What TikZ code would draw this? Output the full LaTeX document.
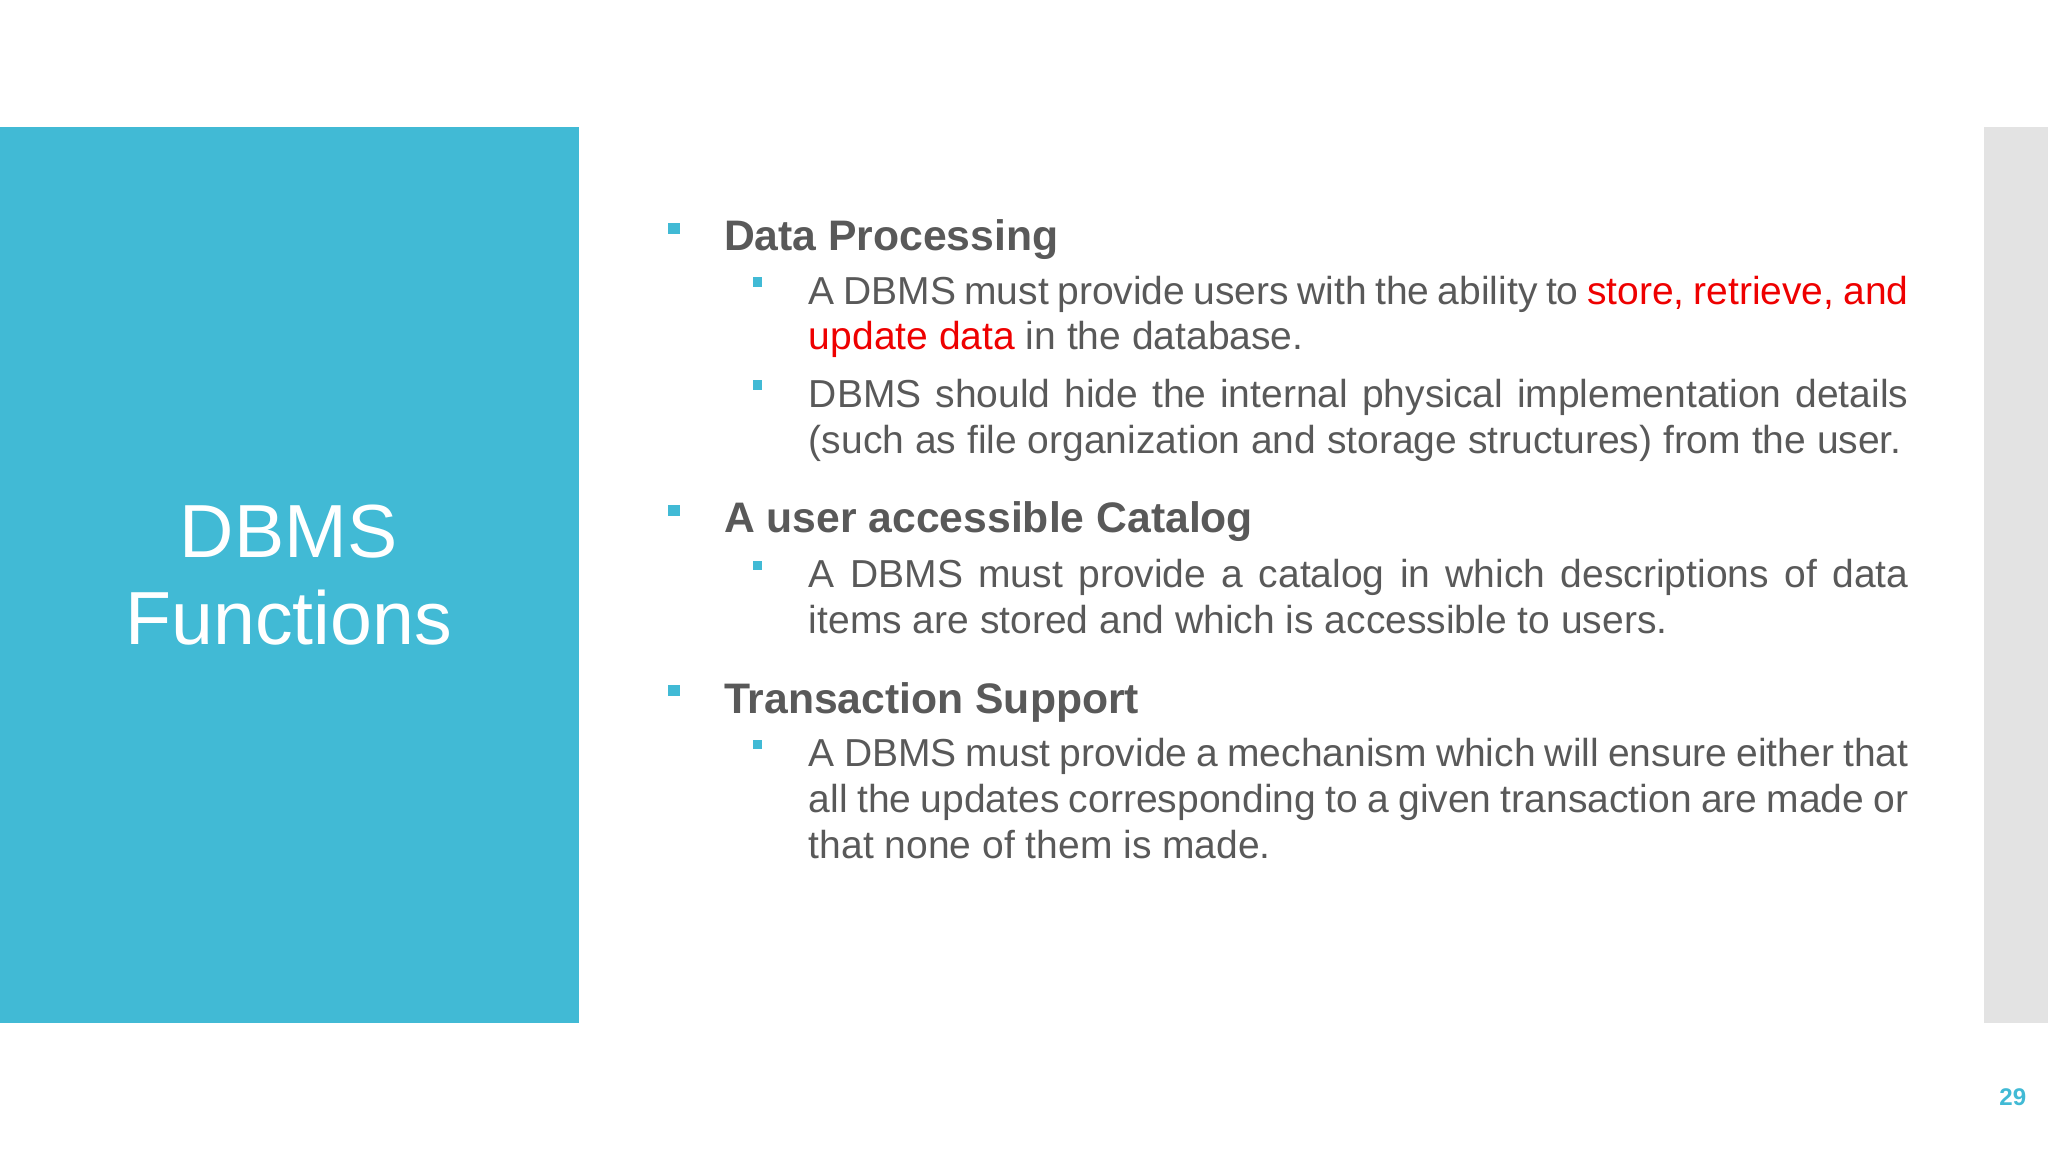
\documentclass[tikz,border=0pt]{standalone}
\usepackage{fontspec}
\setmainfont{Liberation Sans}
\definecolor{teal}{HTML}{41BAD5}
\definecolor{txt}{HTML}{595959}
\definecolor{gbar}{HTML}{E3E3E3}
\definecolor{red1}{HTML}{EE0000}
\newcommand{\nohyph}{\hyphenpenalty10000 \exhyphenpenalty10000 }
\tikzset{
 head/.style={anchor=base west,inner sep=0,font=\fontsize{18.6}{22}\selectfont\bfseries,text=txt},
 body/.style={anchor=north west,inner sep=0,text width=16.84cm,align=justify,font={\fontsize{17}{19.9}\selectfont\nohyph},text=txt},
 bA/.style={fill=teal,minimum size=0.17cm,inner sep=0},
 bB/.style={fill=teal,minimum size=0.15cm,inner sep=0}
}
\begin{document}
\begin{tikzpicture}[x=0.02cm,y=-0.02cm]
\useasboundingbox (0,0) rectangle (1568,882);
\fill[teal] (0,97) rectangle (443,783);
\fill[gbar] (1519,97) rectangle (1568,783);
\node[align=center,text=white,font=\fontsize{32.8}{38}\selectfont,inner sep=0] (title) at (221,440) {DBMS\\Functions};
\node[text=teal,font=\fontsize{10.5}{12}\selectfont\bfseries,inner sep=0] (pg) at (1541,840) {29};
\node[bA] (b1) at (516,175) {};
\node[head] (h1) at (554,192) {Data Processing};
\node[bB] (b11) at (580,216) {};
\node[body] (t11) at (619,211) {A DBMS must provide users with the ability to \textcolor{red1}{store, retrieve, and update data} in the database.};
\node[bB] (b12) at (580,295) {};
\node[body] (t12) at (619,290) {DBMS should hide the internal physical implementation details (such as file organization and storage structures) from the user.};
\node[bA] (b2) at (516,391) {};
\node[head] (h2) at (554,408) {A user accessible Catalog};
\node[bB] (b21) at (580,433) {};
\node[body] (t21) at (619,428) {A DBMS must provide a catalog in which descriptions of data items are stored and which is accessible to users.};
\node[bA] (b3) at (516,529) {};
\node[head] (h3) at (554,546) {Transaction Support};
\node[bB] (b31) at (580,570) {};
\node[body] (t31) at (619,565) {A DBMS must provide a mechanism which will ensure either that all the updates corresponding to a given transaction are made or that none of them is made.};
\end{tikzpicture}
\end{document}
